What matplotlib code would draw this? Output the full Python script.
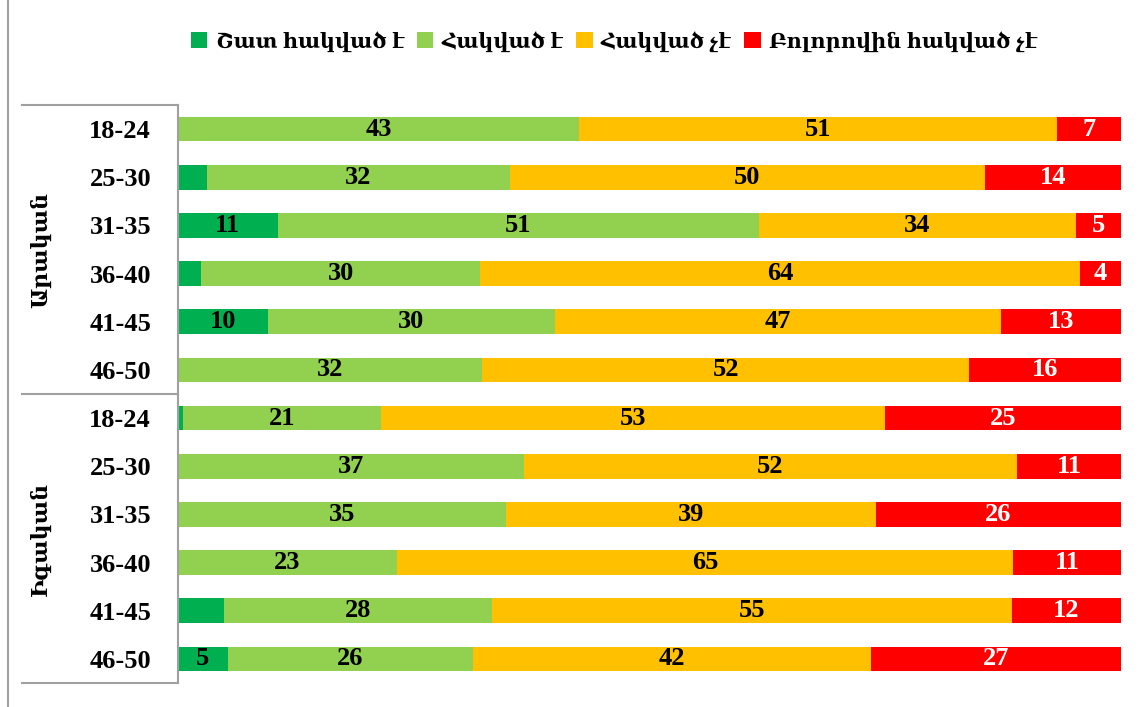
import matplotlib.pyplot as plt
from matplotlib.lines import Line2D
import numpy as np

plt.rcParams['font.family'] = ['Liberation Serif', 'DejaVu Serif']
plt.rcParams['font.weight'] = 'bold'

ages = ['18-24', '25-30', '31-35', '36-40', '41-45', '46-50']
groups = ['Արական', 'Իգական']
series = ['Շատ հակված է', 'Հակված է', 'Հակված չէ', 'Բոլորովին հակված չէ']
colors = ['#00B050', '#92D050', '#FFC000', '#FF0000']
text_colors = ['black', 'black', 'black', 'white']

# percent shares, male rows first then female rows
very_inclined = [0, 3.1, 10.6, 2.5, 9.6, 0, 0.55, 0, 0, 0, 4.95, 5.35]
inclined = [42.6, 32.1, 51.0, 29.6, 30.4, 32.3, 21.0, 36.7, 34.8, 23.3, 28.4, 25.95]
not_inclined = [50.6, 50.4, 33.6, 63.6, 47.3, 51.6, 53.4, 52.3, 39.2, 65.3, 55.1, 42.15]
not_at_all = [6.8, 14.4, 4.8, 4.3, 12.7, 16.1, 25.05, 11.0, 26.0, 11.4, 11.55, 26.55]

data = [very_inclined, inclined, not_inclined, not_at_all]
labels = ages + ages
y = np.arange(len(labels))

fig = plt.figure(figsize=(11.4, 7.07), dpi=100)
ax = fig.add_axes([177.5 / 1140, 1 - 683 / 707, 943.5 / 1140, 578 / 707])

left = np.zeros(len(labels))
for i, vals in enumerate(data):
    vals = np.array(vals)
    ax.barh(y, vals, left=left, height=0.51, color=colors[i], label=series[i])
    for j, v in enumerate(vals):
        if v <= 0 or (i == 0 and v < 5):
            continue
        ax.text(left[j] + v / 2, y[j], str(int(v + 0.5)), ha='center', va='center',
                color=text_colors[i], fontsize=19, fontweight='bold')
    left += vals

ax.set_xlim(0, 100)
ax.set_ylim(11.5, -0.5)
ax.set_yticks(y)
ax.set_yticklabels(labels, fontsize=19, fontweight='bold')
ax.tick_params(axis='y', length=0, pad=19)
ax.set_xticks([])
for s in ['top', 'right', 'bottom']:
    ax.spines[s].set_visible(False)
ax.spines['left'].set_color('#A0A0A0')
ax.spines['left'].set_linewidth(1.5)

# group separators and group names
tr = ax.get_yaxis_transform()
x0 = (22 - 177.5) / 943.5
for yy in [-0.5, 5.5, 11.5]:
    ax.plot([x0, 0], [yy, yy], color='#A0A0A0', lw=1.5, transform=tr, clip_on=False)
for k, g in enumerate(groups):
    ax.text((41 - 177.5) / 943.5, 2.5 + 6 * k, g, rotation=90, ha='center', va='center',
            transform=tr, fontsize=16, fontweight='bold')

fig.add_artist(Line2D([8 / 1140, 8 / 1140], [0, 1], color='#A0A0A0', lw=1.5))

fig.legend(loc='center', bbox_to_anchor=(614 / 1140, 1 - 42 / 707), ncol=4, frameon=False,
           fontsize=15, handlelength=0.8, handleheight=0.8, handletextpad=0.4,
           columnspacing=0.6)

plt.savefig('out.png')
